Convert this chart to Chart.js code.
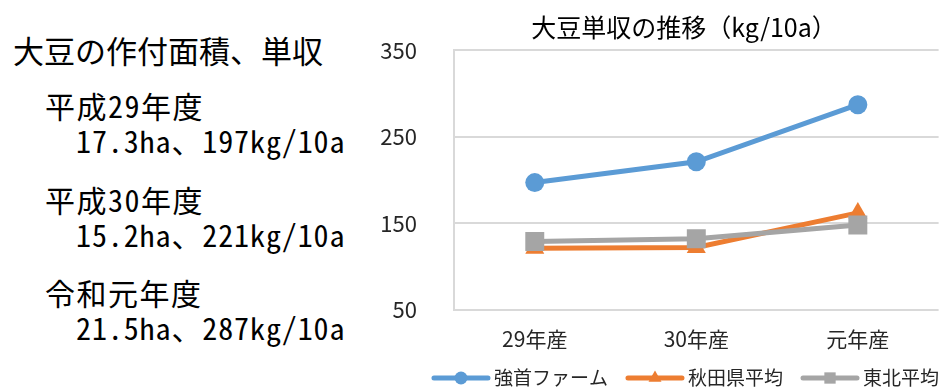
<!DOCTYPE html>
<html lang="ja">
<head>
<meta charset="utf-8">
<script src="https://cdn.jsdelivr.net/npm/chart.js@4.4.1/dist/chart.umd.min.js"></script>
<style>
  html, body { margin: 0; padding: 0; background: #fff; overflow: hidden; }
  body { width: 944px; height: 387px; position: relative; font-family: "Noto Sans CJK JP", sans-serif; }
  .note { position: absolute; white-space: nowrap; color: #000; line-height: 1; font-feature-settings: "hwid" 1; }
  #chart-title { position: absolute; left: 484px; width: 400px; top: 14px; text-align: center; font-size: 25px; line-height: 1; color: #000; white-space: nowrap; }
  #wrap { position: absolute; left: 380px; top: 0; width: 572px; height: 387px; }
</style>
</head>
<body>
<div id="notes"></div>
<div id="wrap"><canvas id="chart-yield" width="572" height="387"></canvas></div>
<div id="chart-title">大豆単収の推移（kg/10a）</div>
<script>
// ===== data =====
const years = ['29年産', '30年産', '元年産'];
const farmYield = [197, 221, 287];     // 強首ファーム
const akitaYield = [121, 122, 162];    // 秋田県平均
const tohokuYield = [129, 132, 148];   // 東北平均
const yTicks = [50, 150, 250, 350];

const seasonNames = ['平成29年度', '平成30年度', '令和元年度'];
const areas = ['17.3ha', '15.2ha', '21.5ha'];

const FONT = '"Noto Sans CJK JP", sans-serif';
const TEXT = '#262626';

// ===== left side summary =====
const notes = document.getElementById('notes');
function addNote(text, left, top, size, spacing) {
  const d = document.createElement('div');
  d.className = 'note';
  d.textContent = text;
  d.style.left = left + 'px';
  d.style.top = top + 'px';
  d.style.fontSize = size + 'px';
  if (spacing) d.style.letterSpacing = spacing + 'px';
  notes.appendChild(d);
}
addNote('大豆の作付面積、単収', 13, 34, 31);
const rowTops = [90, 184, 277];
seasonNames.forEach((name, i) => {
  addNote(name, 45, rowTops[i], 30, 1.5);
  addNote(areas[i] + '、' + farmYield[i] + 'kg/10a', 76, rowTops[i] + 35, 30, 0.9);
});

// ===== legend drawn as line + marker, like the spreadsheet =====
const lineLegend = {
  id: 'lineLegend',
  afterDraw(chart) {
    const ctx = chart.ctx;
    const y = 378;
    ctx.save();
    ctx.font = '19px ' + FONT;
    ctx.textBaseline = 'middle';
    const items = chart.data.datasets.map(ds => ({ ds, w: 60 + 3 + ctx.measureText(ds.label).width }));
    const total = items.reduce((s, it) => s + it.w, 0) + 17 * (items.length - 1);
    let x = 305 - total / 2;
    for (const it of items) {
      const ds = it.ds;
      ctx.strokeStyle = ds.borderColor;
      ctx.lineWidth = 5;
      ctx.lineCap = 'round';
      ctx.beginPath();
      ctx.moveTo(x + 3, y);
      ctx.lineTo(x + 57, y);
      ctx.stroke();
      ctx.fillStyle = ds.borderColor;
      Chart.helpers.drawPoint(ctx, { pointStyle: ds.pointStyle, radius: ds.legendRadius, rotation: 0, borderWidth: 0 }, x + 30, y);
      ctx.fillStyle = TEXT;
      ctx.textAlign = 'left';
      ctx.fillText(ds.label, x + 63, y);
      x += it.w + 17;
    }
    ctx.restore();
  }
};

const canvas = document.getElementById('chart-yield');
new Chart(canvas, {
  type: 'line',
  data: {
    labels: years,
    datasets: [
      {
        label: '強首ファーム',
        data: farmYield,
        borderColor: '#5b9bd5',
        pointStyle: 'circle',
        pointRadius: 9.5,
        legendRadius: 6.5,
        order: 2
      },
      {
        label: '秋田県平均',
        data: akitaYield,
        borderColor: '#ed7d31',
        pointStyle: 'triangle',
        pointRadius: 11,
        legendRadius: 7.5,
        order: 1
      },
      {
        label: '東北平均',
        data: tohokuYield,
        borderColor: '#a5a5a5',
        pointStyle: 'rect',
        pointRadius: 13.4,
        legendRadius: 8,
        order: 0
      }
    ].map(ds => Object.assign(ds, {
      backgroundColor: ds.borderColor,
      borderWidth: 5,
      tension: 0,
      fill: false,
      pointBorderWidth: 0,
      pointBackgroundColor: ds.borderColor
    }))
  },
  options: {
    responsive: false,
    animation: false,
    layout: { padding: { left: 0, right: 0, top: 50, bottom: 18 } },
    plugins: {
      legend: { display: false },
      tooltip: { enabled: false },
      title: { display: false }
    },
    scales: {
      x: {
        offset: true,
        grid: { display: false, drawTicks: false },
        border: { display: false },
        ticks: { padding: 17, color: TEXT, font: { family: FONT, size: 21 } }
      },
      y: {
        min: yTicks[0],
        max: yTicks[yTicks.length - 1],
        afterBuildTicks: (scale) => { scale.ticks = yTicks.map(v => ({ value: v })); },
        afterFit: (scale) => { scale.width = 74; },
        grid: { color: '#d9d9d9', lineWidth: 2, drawTicks: false },
        border: { color: '#d9d9d9', width: 2 },
        ticks: { padding: 37, color: TEXT, font: { family: FONT, size: 22 } }
      }
    }
  },
  plugins: [lineLegend]
});
</script>
</body>
</html>
